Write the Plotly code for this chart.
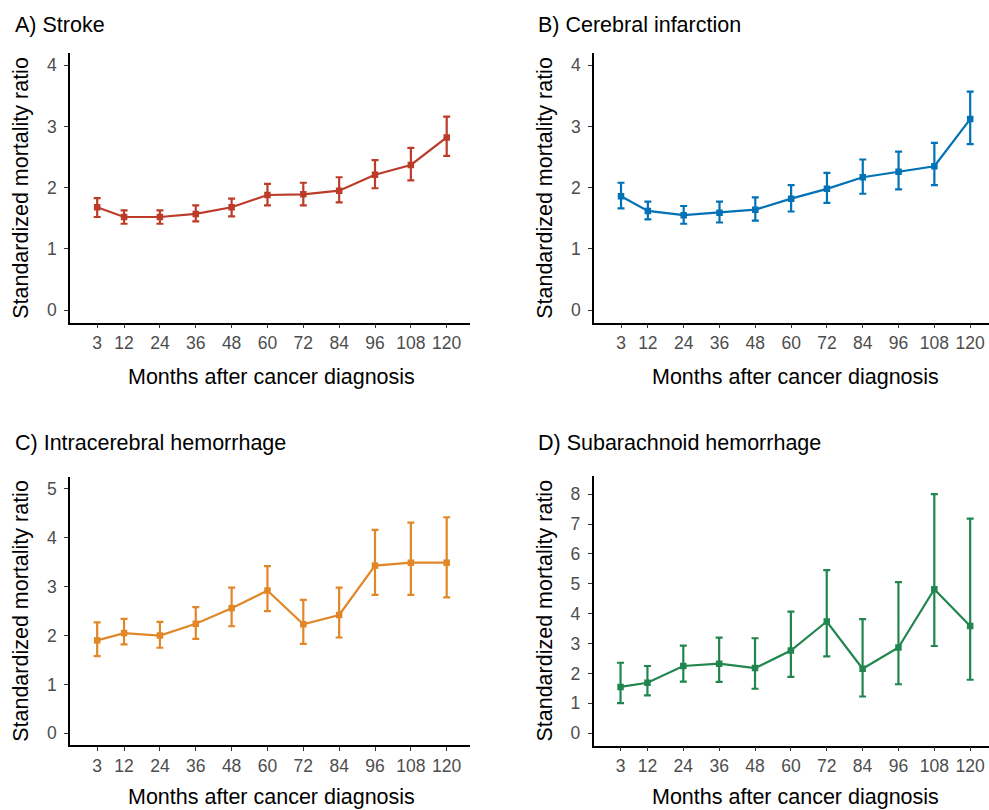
import plotly.graph_objects as go

months = [3, 12, 24, 36, 48, 60, 72, 84, 96, 108, 120]

stroke_smr = [1.68, 1.52, 1.52, 1.57, 1.68, 1.88, 1.89, 1.95, 2.21, 2.37, 2.82]
stroke_lo = [1.52, 1.41, 1.41, 1.45, 1.53, 1.71, 1.71, 1.76, 1.99, 2.12, 2.52]
stroke_hi = [1.83, 1.63, 1.63, 1.71, 1.82, 2.06, 2.08, 2.17, 2.45, 2.65, 3.16]

infarct_smr = [1.86, 1.62, 1.55, 1.59, 1.64, 1.82, 1.98, 2.17, 2.26, 2.35, 3.12]
infarct_lo = [1.66, 1.48, 1.41, 1.43, 1.46, 1.61, 1.75, 1.90, 1.97, 2.04, 2.71]
infarct_hi = [2.08, 1.77, 1.70, 1.77, 1.84, 2.04, 2.24, 2.46, 2.59, 2.73, 3.57]

ich_smr = [1.90, 2.05, 2.00, 2.24, 2.56, 2.92, 2.23, 2.42, 3.43, 3.49, 3.49]
ich_lo = [1.58, 1.82, 1.75, 1.93, 2.19, 2.50, 1.83, 1.96, 2.83, 2.83, 2.78]
ich_hi = [2.27, 2.34, 2.28, 2.58, 2.98, 3.42, 2.73, 2.98, 4.16, 4.31, 4.42]

sah_smr = [1.55, 1.69, 2.25, 2.33, 2.18, 2.77, 3.74, 2.16, 2.87, 4.82, 3.59]
sah_lo = [1.01, 1.27, 1.73, 1.72, 1.49, 1.89, 2.57, 1.23, 1.64, 2.92, 1.79]
sah_hi = [2.36, 2.25, 2.93, 3.20, 3.18, 4.07, 5.46, 3.82, 5.06, 8.00, 7.18]

titles = ["A) Stroke", "B) Cerebral infarction",
          "C) Intracerebral hemorrhage", "D) Subarachnoid hemorrhage"]
colors = ["#BC3C29", "#0072B5", "#E18727", "#20854E"]
x_title = "Months after cancer diagnosis"
y_title = "Standardized mortality ratio"

W, H = 989, 810
FONT = "Liberation Sans, Arial, sans-serif"
TITLE_SIZE = 21.5
TICK_SIZE = 17.5


def px(x):
    return x / W


def py(y):
    return 1 - y / H


panels = [
    dict(smr=stroke_smr, lo=stroke_lo, hi=stroke_hi,
         xd=[70, 470], yd=[322.7, 53], xr=[-6.1, 127.8], yr=[-0.207, 4.2],
         yt=[0, 1, 2, 3, 4], tx=13, ty=25, ytx=21, xtx=271, xty=377),
    dict(smr=infarct_smr, lo=infarct_lo, hi=infarct_hi,
         xd=[594, 989], yd=[322.7, 53], xr=[-6.05, 126.3], yr=[-0.207, 4.2],
         yt=[0, 1, 2, 3, 4], tx=536, ty=25, ytx=545, xtx=795, xty=377),
    dict(smr=ich_smr, lo=ich_lo, hi=ich_hi,
         xd=[70, 470], yd=[745, 476.7], xr=[-6.1, 127.8], yr=[-0.24, 5.25],
         yt=[0, 1, 2, 3, 4, 5], tx=13, ty=443, ytx=21, xtx=271, xty=797),
    dict(smr=sah_smr, lo=sah_lo, hi=sah_hi,
         xd=[593.5, 989], yd=[745.5, 475.7], xr=[-6.05, 126.3], yr=[-0.41, 8.62],
         yt=[0, 1, 2, 3, 4, 5, 6, 7, 8], tx=536, ty=443, ytx=545, xtx=795, xty=797),
]

fig = go.Figure()
annotations = []
for i, p in enumerate(panels):
    n = "" if i == 0 else str(i + 1)
    plus = [h - v for h, v in zip(p["hi"], p["smr"])]
    minus = [v - l for v, l in zip(p["smr"], p["lo"])]
    fig.add_trace(go.Scatter(
        x=months, y=p["smr"], mode="lines+markers",
        line=dict(color=colors[i], width=2.2),
        marker=dict(symbol="square", size=6.5, color=colors[i]),
        error_y=dict(type="data", array=plus, arrayminus=minus,
                     color=colors[i], thickness=2.2, width=3.5),
        xaxis="x" + n, yaxis="y" + n, showlegend=False,
    ))
    axcommon = dict(showgrid=False, zeroline=False, showline=True,
                    linecolor="black", linewidth=1.5, ticks="outside",
                    ticklen=4, tickwidth=1.2, tickcolor="#333333",
                    tickfont=dict(family=FONT, size=TICK_SIZE, color="#4D4D4D"))
    fig.layout["xaxis" + n] = dict(
        domain=[px(p["xd"][0]), px(p["xd"][1])], range=p["xr"],
        tickmode="array", tickvals=months, ticktext=[str(m) for m in months],
        anchor="y" + n, ticklabelstandoff=0, **axcommon)
    fig.layout["yaxis" + n] = dict(
        domain=[py(p["yd"][0]), py(p["yd"][1])], range=p["yr"],
        tickmode="array", tickvals=p["yt"], ticktext=[str(t) for t in p["yt"]],
        anchor="x" + n, ticklabelstandoff=4, **axcommon)
    annotations.append(dict(text=titles[i], x=px(p["tx"]), y=py(p["ty"]),
                            xref="paper", yref="paper", xanchor="left", yanchor="middle",
                            showarrow=False, font=dict(family=FONT, size=TITLE_SIZE, color="black")))
    annotations.append(dict(text=x_title, x=px(p["xtx"]), y=py(p["xty"]),
                            xref="paper", yref="paper", xanchor="center", yanchor="middle",
                            showarrow=False, font=dict(family=FONT, size=TITLE_SIZE, color="black")))
    annotations.append(dict(text=y_title, x=px(p["ytx"]),
                            y=py((p["yd"][0] + p["yd"][1]) / 2),
                            xref="paper", yref="paper", xanchor="center", yanchor="middle",
                            textangle=-90, showarrow=False,
                            font=dict(family=FONT, size=TITLE_SIZE, color="black")))

fig.update_layout(width=W, height=H, margin=dict(l=0, r=0, t=0, b=0),
                  paper_bgcolor="white", plot_bgcolor="white",
                  annotations=annotations, font=dict(family=FONT))
fig.write_html("out.html", config={"displayModeBar": False},
               post_script="document.body.style.margin='0';"
                           "document.body.style.overflow='hidden';")
